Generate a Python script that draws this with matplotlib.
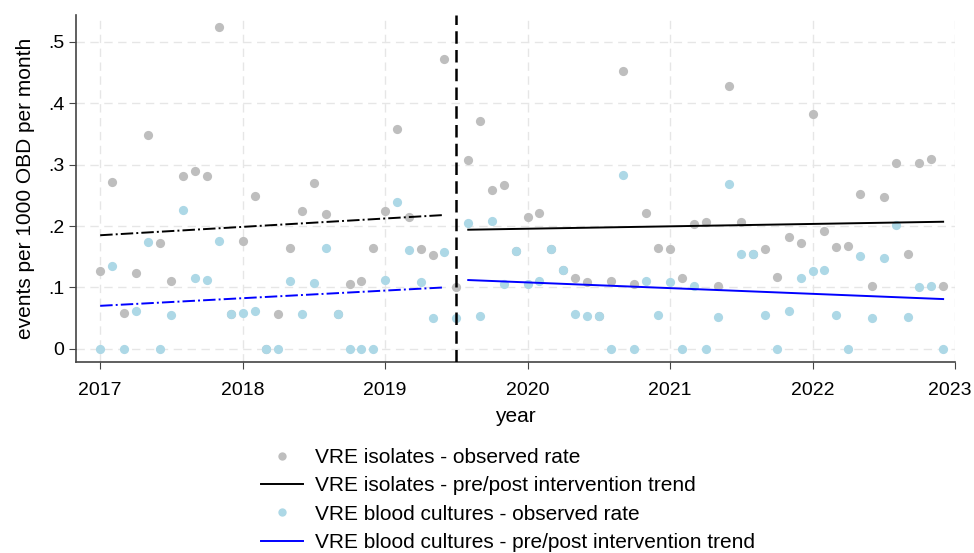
import matplotlib
matplotlib.use("Agg")
import matplotlib.pyplot as plt
import matplotlib.transforms as mtransforms
from matplotlib.lines import Line2D
import numpy as np

plt.rcParams['font.family'] = ['Liberation Sans', 'DejaVu Sans']

# monthly observations Jan 2017 - Dec 2022
YEARS = [2017, 2018, 2019, 2020, 2021, 2022]
MONTHS = list(range(1, 13))

ISOLATES = [
    0.126, 0.271, 0.059, 0.124, 0.349, 0.172, 0.110, 0.282, 0.289, 0.282, 0.525, 0.057,
    0.175, 0.249, 0.0, 0.057, 0.165, 0.225, 0.270, 0.220, 0.056, 0.106, 0.111, 0.164,
    0.225, 0.358, 0.214, 0.163, 0.152, 0.472, 0.100, 0.307, 0.371, 0.259, 0.267, 0.159,
    0.214, 0.222, 0.162, 0.129, 0.115, 0.109, 0.054, 0.111, 0.453, 0.105, 0.221, 0.165,
    0.162, 0.115, 0.204, 0.206, 0.103, 0.429, 0.206, 0.154, 0.163, 0.117, 0.182, 0.172,
    0.382, 0.192, 0.166, 0.167, 0.252, 0.102, 0.247, 0.303, 0.155, 0.303, 0.310, 0.103,
]
BLOOD = [
    0.0, 0.135, 0.0, 0.061, 0.174, 0.0, 0.055, 0.226, 0.116, 0.112, 0.175, 0.057,
    0.058, 0.062, 0.0, 0.0, 0.110, 0.057, 0.107, 0.164, 0.056, 0.0, 0.0, 0.0,
    0.112, 0.239, 0.161, 0.109, 0.050, 0.157, 0.050, 0.205, 0.053, 0.208, 0.106, 0.159,
    0.106, 0.111, 0.162, 0.129, 0.057, 0.054, 0.054, 0.0, 0.283, 0.0, 0.110, 0.055,
    0.108, 0.0, 0.102, 0.0, 0.051, 0.268, 0.154, 0.154, 0.055, 0.0, 0.061, 0.115,
    0.127, 0.128, 0.055, 0.0, 0.151, 0.050, 0.148, 0.202, 0.052, 0.101, 0.103, 0.0,
]

INTERVENTION = 2019.5

# trend segments (start, end) in decimal years and fitted values
PRE_X = [2017.0, 2019 + 5 / 12]
POST_X = [2019 + 7 / 12, 2022 + 11 / 12]
PRE_ISO = [0.185, 0.218]
POST_ISO = [0.194, 0.207]
PRE_BLOOD = [0.070, 0.100]
POST_BLOOD = [0.112, 0.081]

GRAY = "#bebebe"
LBLUE = "#add8e6"
FS = 14
FS_BIG = 15

x = np.array([y + (m - 1) / 12 for y in YEARS for m in MONTHS])

fig = plt.figure(figsize=(9.74, 5.53), dpi=100)
ax = fig.add_axes([0.078, 0.346, 0.9025, 0.627])

ax.scatter(x, ISOLATES, s=44, color=GRAY, zorder=3, linewidths=0)
ax.scatter(x, BLOOD, s=44, color=LBLUE, zorder=3, linewidths=0)
ax.plot(PRE_X, PRE_ISO, color="black", ls="-.", lw=1.4, zorder=4)
ax.plot(PRE_X, PRE_BLOOD, color="blue", ls="-.", lw=1.4, zorder=4)
ax.plot(POST_X, POST_ISO, color="black", lw=1.4, zorder=4)
ax.plot(POST_X, POST_BLOOD, color="blue", lw=1.4, zorder=4)
ax.axvline(INTERVENTION, color="black", ls=(0, (5, 2.5)), lw=1.8, zorder=5)

ax.set_xlim(2016.83, 2023.0)
ax.set_ylim(-0.021, 0.544)
ax.set_xticks(range(2017, 2024))
ax.set_yticks([0, 0.1, 0.2, 0.3, 0.4, 0.5])
ax.set_yticklabels(["0", ".1", ".2", ".3", ".4", ".5"])
ax.tick_params(labelsize=FS, length=5, color="#444444")
ax.tick_params(axis="x", pad=9.5)
ax.grid(ls=(0, (6, 4)), color="#e6e6e6", lw=1)
ax.set_axisbelow(True)
for s in ["top", "right"]:
    ax.spines[s].set_visible(False)
for s in ["left", "bottom"]:
    ax.spines[s].set_color("#444444")
    ax.spines[s].set_linewidth(1.2)
ax.set_xlabel("year", fontsize=FS_BIG, labelpad=6)
ax.set_ylabel("events per 1000 OBD per month", fontsize=FS_BIG, labelpad=9)

# pull the last year label in so it stays inside the figure
last = ax.get_xticklabels()[-1]
last.set_transform(last.get_transform() +
                   mtransforms.ScaledTranslation(-5 / 100, 0, fig.dpi_scale_trans))

handles = [
    Line2D([], [], marker="o", ls="", color=GRAY, markersize=6, markeredgewidth=0),
    Line2D([], [], color="black", lw=1.4),
    Line2D([], [], marker="o", ls="", color=LBLUE, markersize=6, markeredgewidth=0),
    Line2D([], [], color="blue", lw=1.4),
]
labels = [
    "VRE isolates - observed rate",
    "VRE isolates - pre/post intervention trend",
    "VRE blood cultures - observed rate",
    "VRE blood cultures - pre/post intervention trend",
]
fig.legend(handles, labels, loc="upper left", bbox_to_anchor=(0.268, 0.19),
           frameon=False, fontsize=FS_BIG, handlelength=2.0, handletextpad=0.6,
           labelspacing=0.45, borderpad=0, borderaxespad=0)

fig.savefig("out.png", dpi=100)
